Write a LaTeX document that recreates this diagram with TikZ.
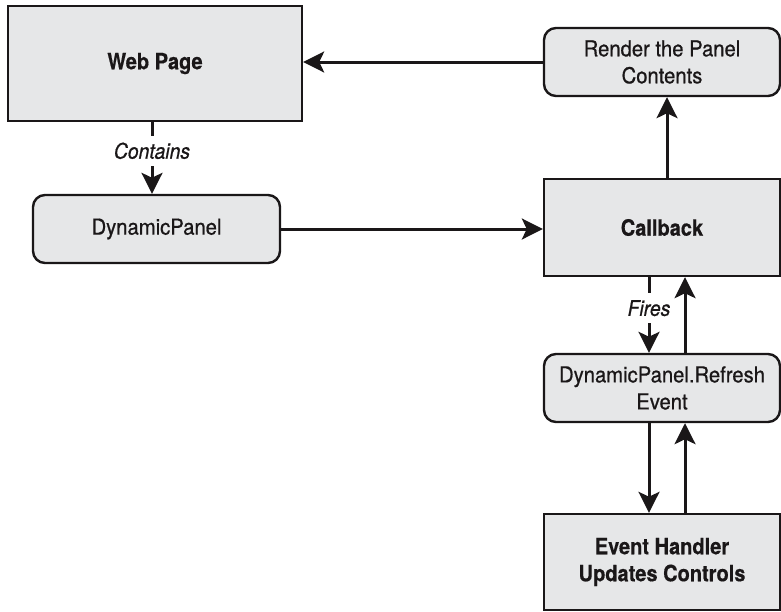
\documentclass[tikz,border=0pt]{standalone}
\usepackage{fontspec}
\setmainfont{TeX Gyre Heros}
\newfontfamily\boldcn[FakeStretch=0.89, FakeBold=0.4]{TeX Gyre Heros}
\newfontfamily\regcn[FakeStretch=0.92, FakeBold=0.7]{TeX Gyre Heros}
\newfontfamily\itcn[FakeStretch=0.9, FakeBold=0.7]{TeX Gyre Heros}
\usetikzlibrary{arrows.meta,calc}
\definecolor{boxfill}{HTML}{E6E7E8}
\definecolor{ink}{HTML}{1A1718}
\tikzset{
  boxbase/.style={draw=ink, line width=2.4pt, fill=boxfill, inner sep=0pt, align=center, text=ink},
  sqbox/.style={boxbase, font=\boldcn\bfseries\fontsize{22.5}{27}\selectfont},
  rbox/.style={boxbase, rounded corners=12pt, font=\regcn\fontsize{22}{27}\selectfont},
  conn/.style={draw=ink, line width=3pt, -{Stealth[length=21pt,width=21pt,inset=5pt]}},
  lbl/.style={fill=white, inner xsep=2pt, inner ysep=0pt, minimum height=30pt, text=ink, font=\itcn\itshape\fontsize{21.5}{24}\selectfont}
}
\begin{document}
\begin{tikzpicture}[x=1pt,y=-1pt]
\useasboundingbox (0,0) rectangle (781,611);
\node[sqbox, minimum width=294pt, minimum height=115pt] (wp) at (155,63.5) {Web Page};
\node[rbox, minimum width=247pt, minimum height=68pt] (dp) at (156.5,229) {DynamicPanel};
\node[rbox, minimum width=236pt, minimum height=68pt] (rd) at (662,62) {Render the Panel\\Contents};
\node[sqbox, minimum width=236pt, minimum height=97pt] (cb) at (662,227.5) {Callback};
\node[rbox, minimum width=236pt, minimum height=68pt] (rf) at (662,388) {DynamicPanel.Refresh\\Event};
\node[sqbox, minimum width=236pt, minimum height=96pt] (eh) at (662,562) {Event Handler\\Updates Controls};

\draw[conn] (rd.west) -- (rd.west -| wp.east);
\draw[conn] (dp.east) -- (dp.east -| cb.west);
\draw[conn] ([xshift=5pt]cb.north) -- ([xshift=5pt]cb.north |- rd.south);
\draw[conn] ([xshift=-3pt]wp.south) -- node[lbl, pos=0.4] (lc) {Contains} ([xshift=-3pt]wp.south |- dp.north);
\draw[conn] ([xshift=-13pt]cb.south) -- node[lbl, pos=0.41] (lf) {Fires} ([xshift=-13pt]cb.south |- rf.north);
\draw[conn] ([xshift=23pt]rf.north) -- ([xshift=23pt]rf.north |- cb.south);
\draw[conn] ([xshift=-13pt]rf.south) -- ([xshift=-13pt]rf.south |- eh.north);
\draw[conn] ([xshift=23pt]eh.north) -- ([xshift=23pt]eh.north |- rf.south);
\end{tikzpicture}
\end{document}
